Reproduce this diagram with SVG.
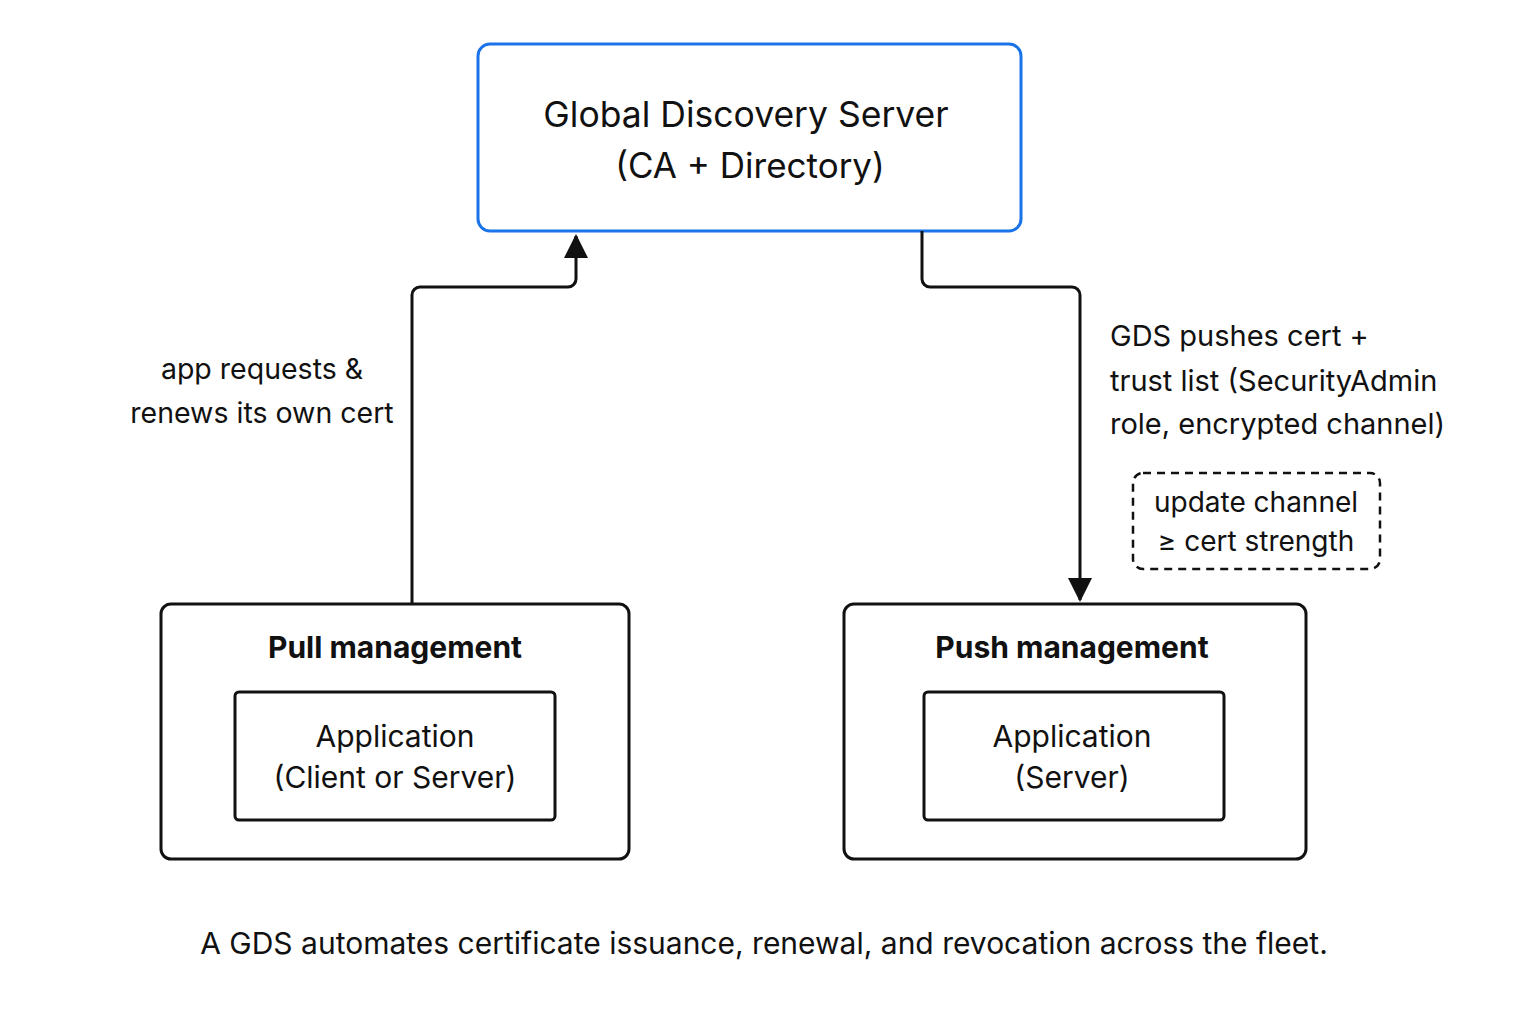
<svg xmlns="http://www.w3.org/2000/svg" width="1536" height="1024" viewBox="0 0 1536 1024">
<style>
text{font-family:"Inter","Liberation Sans",sans-serif;fill:#111;text-anchor:middle}
.box{fill:#fff;stroke:#111;stroke-width:3}
.conn{fill:none;stroke:#111;stroke-width:3;stroke-linejoin:round}
</style>
<defs>
<marker id="a" viewBox="0 0 12 12" refX="11" refY="6" markerWidth="24" markerHeight="24" markerUnits="userSpaceOnUse" orient="auto"><path d="M0,0L12,6L0,12z" fill="#111"/></marker></defs>
<rect width="1536" height="1024" fill="#fff"/>
<g id="gds"><rect x="478" y="44" width="543" height="187" rx="12" fill="#fff" stroke="#1a73e8" stroke-width="3"/>
<text x="746" y="127" font-size="35.5">Global Discovery Server</text>
<text x="750" y="178" font-size="35">(CA + Directory)</text></g>
<g id="connectors">
<path class="conn" d="M412,604V295a8,8 0 0 1 8,-8H568a8,8 0 0 0 8,-8V236" marker-end="url(#a)"/>
<path class="conn" d="M922,231V279a8,8 0 0 0 8,8H1072a8,8 0 0 1 8,8V600" marker-end="url(#a)"/>
<text x="262" y="379" font-size="28.5">app requests &amp;</text>
<text x="262" y="423" font-size="28.5">renews its own cert</text>
<text x="1110" y="346" font-size="29" style="text-anchor:start">GDS pushes cert +</text>
<text x="1110" y="391" font-size="29" style="text-anchor:start">trust list (SecurityAdmin</text>
<text x="1110" y="434" font-size="29" style="text-anchor:start">role, encrypted channel)</text>
</g>
<g id="note"><rect x="1133" y="473" width="247" height="96" rx="10" fill="none" stroke="#111" stroke-width="2.5" stroke-dasharray="8 6"/>
<text x="1256" y="512" font-size="28">update channel</text>
<text x="1256" y="551" font-size="28">≥ cert strength</text></g>
<g id="pull"><rect class="box" x="161" y="604" width="468" height="255" rx="10"/>
<text x="395" y="658" font-size="30" font-weight="bold">Pull management</text>
<rect class="box" x="235" y="692" width="320" height="128" rx="4"/>
<text x="395" y="747" font-size="30">Application</text>
<text x="395" y="788" font-size="30">(Client or Server)</text></g>
<g id="push"><rect class="box" x="844" y="604" width="462" height="255" rx="10"/>
<text x="1072" y="658" font-size="30" font-weight="bold">Push management</text>
<rect class="box" x="924" y="692" width="300" height="128" rx="4"/>
<text x="1072" y="747" font-size="30">Application</text>
<text x="1072" y="788" font-size="30">(Server)</text></g>
<text x="764" y="954" font-size="30">A GDS automates certificate issuance, renewal, and revocation across the fleet.</text>
</svg>
